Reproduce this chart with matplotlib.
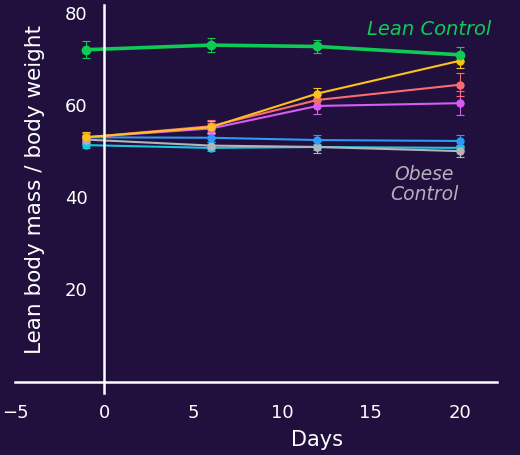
import numpy as np
from matplotlib import pyplot as plt

days = [-1, 6, 12, 20]

lean_control = [72.0, 73.0, 72.7, 70.9]
lean_err = [1.8, 1.6, 1.5, 1.6]
yellow = [53.0, 55.2, 62.5, 69.6]
yellow_err = [1.2, 1.3, 1.3, 1.5]
red = [53.0, 55.4, 61.1, 64.4]
red_err = [1.0, 1.3, 1.0, 2.5]
purple = [53.0, 54.9, 59.8, 60.4]
purple_err = [1.0, 1.2, 1.8, 2.6]
blue = [53.0, 52.9, 52.4, 52.2]
blue_err = [1.0, 1.0, 1.0, 1.2]
cyan = [51.3, 50.7, 50.9, 50.7]
cyan_err = [0.6, 0.6, 0.6, 0.6]
obese_control = [52.5, 51.2, 50.9, 50.0]
obese_err = [1.0, 0.8, 1.3, 1.2]

bg = '#21103d'
series = [
    (cyan, cyan_err, '#17c6e3'),
    (obese_control, obese_err, '#b4b4b8'),
    (blue, blue_err, '#2f9af2'),
    (purple, purple_err, '#d65df2'),
    (red, red_err, '#fa6b73'),
    (yellow, yellow_err, '#fbc21c'),
    (lean_control, lean_err, '#0fcb55'),
]

plt.rcParams['font.family'] = ['DejaVu Sans']

fig = plt.figure(figsize=(5.2, 4.55), dpi=100, facecolor=bg)
ax = fig.add_axes([0.029, 0.136, 0.927, 0.853], facecolor=bg)

for vals, err, col in series:
    lean = col == '#0fcb55'
    ax.errorbar(days, vals, yerr=err, color=col, lw=2.6 if lean else 1.5,
                marker='o', ms=6 if lean else 5, capsize=3, elinewidth=0.8,
                capthick=0.8, ecolor=col)

ax.set_xlim(-5, 22.1)
ax.set_ylim(-2.5, 81.7)
ax.spines['left'].set_position(('data', 0))
ax.spines['bottom'].set_position(('data', 0))
for s in ['top', 'right']:
    ax.spines[s].set_visible(False)
for s in ['left', 'bottom']:
    ax.spines[s].set_color('white')
    ax.spines[s].set_linewidth(1.8)

ax.set_xticks([-5, 0, 5, 10, 15, 20])
ax.set_yticks([20, 40, 60, 80])
ax.tick_params(axis='x', length=0, pad=16, colors='white', labelsize=13)
ax.tick_params(axis='y', length=0, pad=12, colors='white', labelsize=13)

fig.text(0.61, 0.032, 'Days', color='white', fontsize=15,
         ha='center', va='center')
fig.text(0.068, 0.583, 'Lean body mass / body weight', color='white',
         fontsize=15.5, rotation=90, ha='center', va='center')

ax.text(18.3, 76.3, 'Lean Control', color='#0fcb55', fontsize=14,
        style='italic', ha='center', va='center')
ax.text(18.0, 42.8, 'Obese\nControl', color='#b4b0bc', fontsize=13.5,
        style='italic', ha='center', va='center', linespacing=1.1)

fig.savefig('out.png', dpi=100, facecolor=bg)
